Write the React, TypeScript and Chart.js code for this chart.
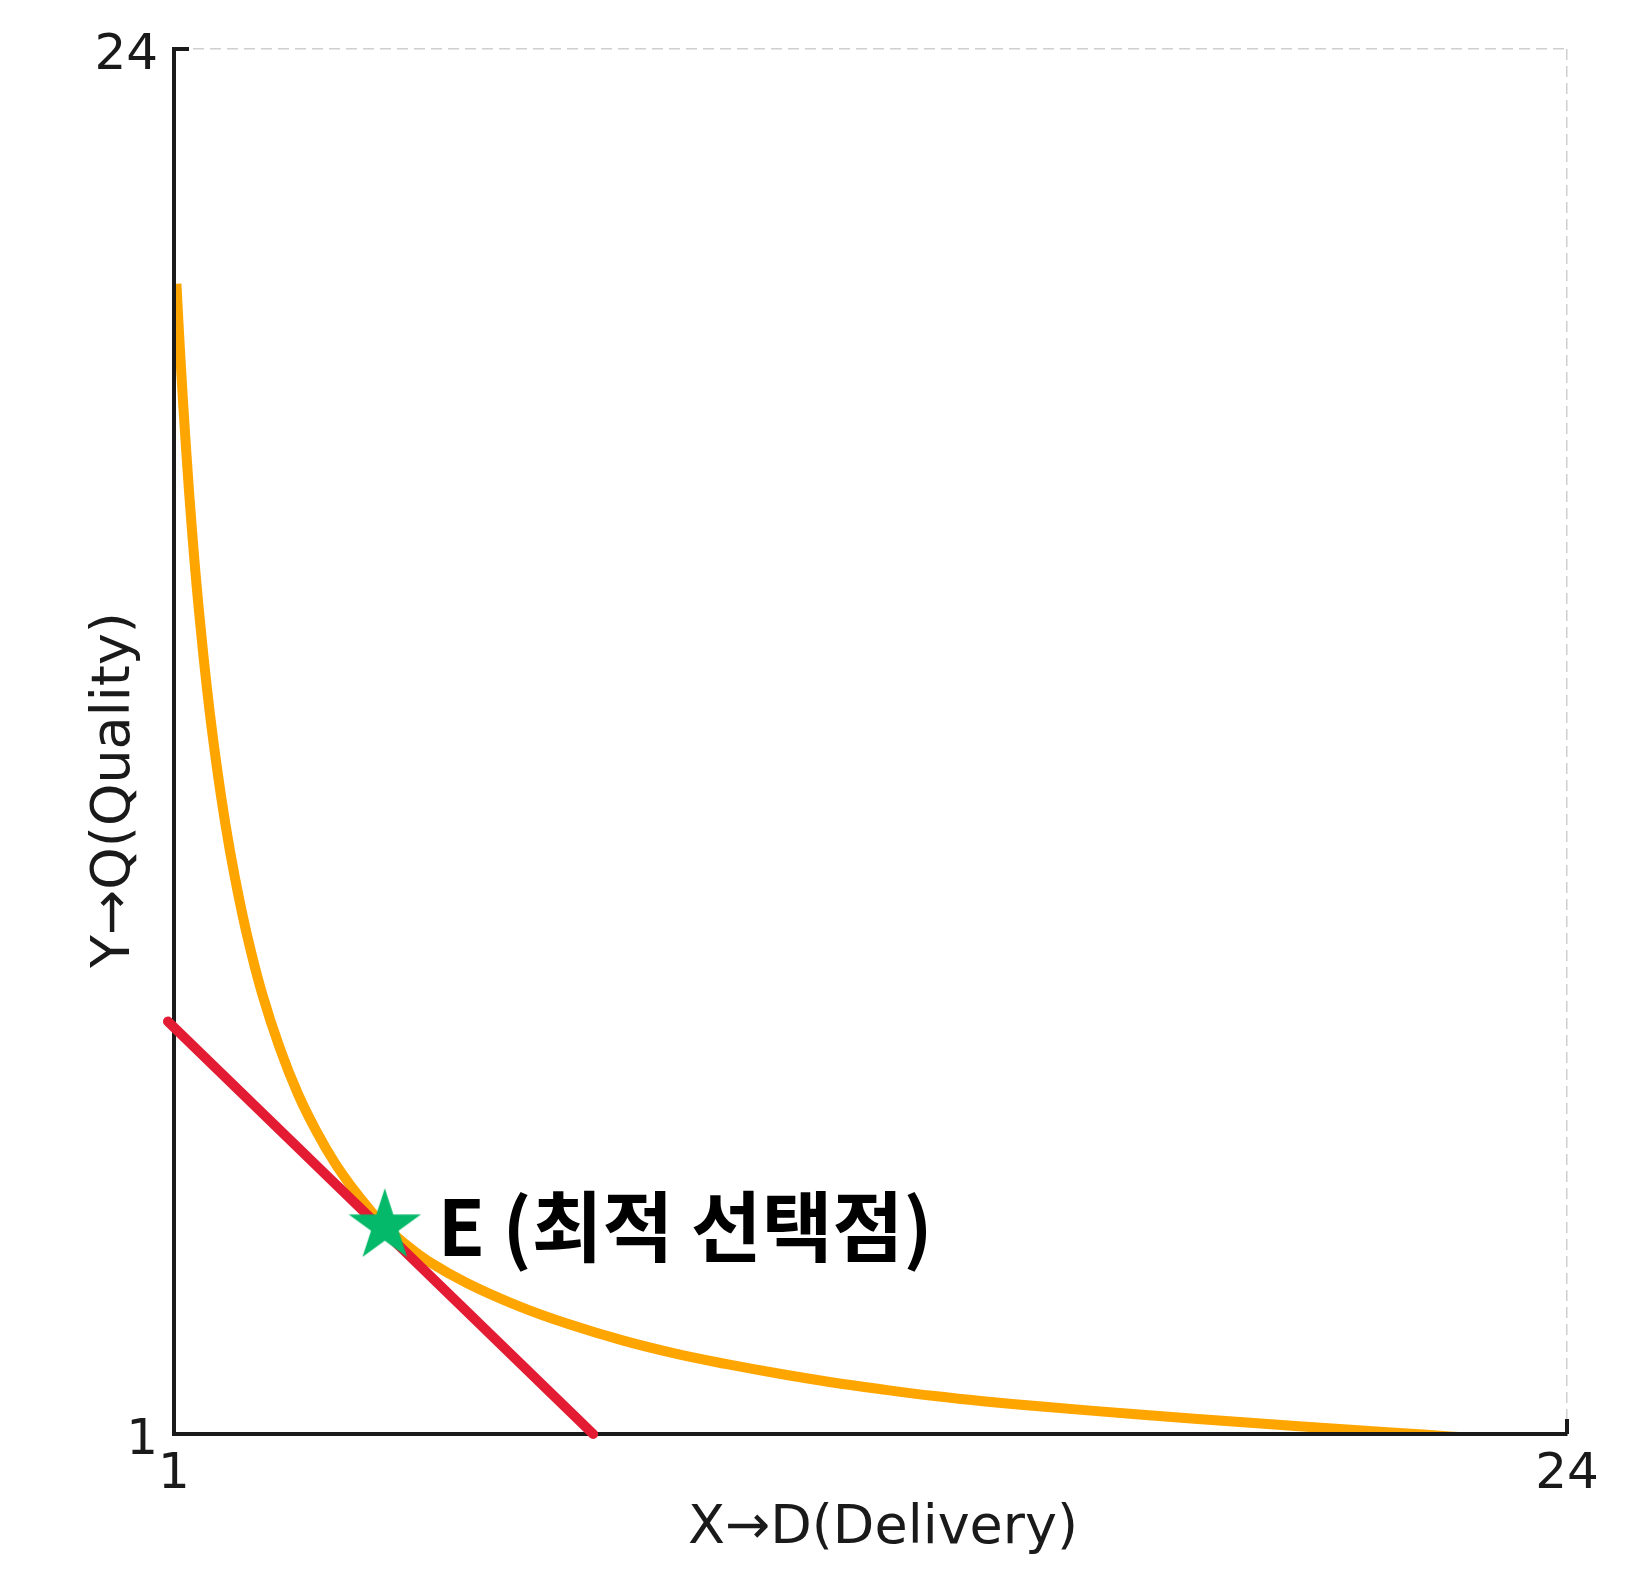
import { useEffect, useRef } from "react";
import { Chart, registerables } from "chart.js";

Chart.register(...registerables);

// ---- data ----
const X_MIN = 1;
const X_MAX = 24;
const Y_MIN = 1;
const Y_MAX = 24;
const TICK_VALUES = [1, 24];

// indifference curve
const CURVE_X = [1.04, 1.1, 1.2, 1.3, 1.4, 1.55, 1.7, 1.85, 2.0, 2.2, 2.45, 2.75, 3.05, 3.35, 3.65, 3.95, 4.22, 4.47, 4.8, 5.2, 5.85, 6.7, 7.5, 8.42, 9.3, 10.13, 11.0, 11.85, 12.7, 13.56, 14.4, 15.28, 16.99, 18.71, 20.43, 21.63, 22.5];
const CURVE_Y = [20.1, 18.97, 17.35, 15.97, 14.8, 13.33, 12.13, 11.12, 10.27, 9.31, 8.33, 7.4, 6.64, 6.03, 5.51, 5.08, 4.74, 4.46, 4.17, 3.87, 3.5, 3.12, 2.83, 2.55, 2.33, 2.16, 2.0, 1.86, 1.74, 1.63, 1.54, 1.46, 1.32, 1.19, 1.07, 0.99, 0.93];

// budget line
const BUDGET_X = [0.9, 7.92];
const BUDGET_Y = [7.85, 1.0];

// optimum point
const OPTIMUM_X = [4.48];
const OPTIMUM_Y = [4.45];
const OPTIMUM_LABEL = "E (최적 선택점)";

const X_TITLE = "X→D(Delivery)";
const Y_TITLE = "Y→Q(Quality)";

const AXIS_COLOR = "#1a1a1a";

function makeStar(R: number, color: string): HTMLCanvasElement {
  const size = Math.ceil(R * 2 + 4);
  const c = document.createElement("canvas");
  c.width = size;
  c.height = size;
  const ctx = c.getContext("2d")!;
  const cx = size / 2;
  const cy = size / 2;
  const r = R * 0.381966;
  ctx.beginPath();
  for (let i = 0; i < 10; i++) {
    const ang = -Math.PI / 2 + (i * Math.PI) / 5;
    const rad = i % 2 === 0 ? R : r;
    const px = cx + rad * Math.cos(ang);
    const py = cy + rad * Math.sin(ang);
    if (i === 0) ctx.moveTo(px, py);
    else ctx.lineTo(px, py);
  }
  ctx.closePath();
  ctx.fillStyle = color;
  ctx.fill();
  return c;
}

const textPlugin = {
  id: "textPlugin",
  afterDraw(chart: any) {
    const { ctx, chartArea } = chart;
    const xs = chart.scales.x;
    const ys = chart.scales.y;
    ctx.save();
    // inward tick marks
    ctx.strokeStyle = AXIS_COLOR;
    ctx.lineWidth = 4;
    for (const v of TICK_VALUES) {
      const px = xs.getPixelForValue(v);
      ctx.beginPath();
      ctx.moveTo(px, chartArea.bottom);
      ctx.lineTo(px, chartArea.bottom - 15);
      ctx.stroke();
      const py = ys.getPixelForValue(v);
      ctx.beginPath();
      ctx.moveTo(chartArea.left, py);
      ctx.lineTo(chartArea.left + 15, py);
      ctx.stroke();
    }
    // tick labels
    ctx.fillStyle = AXIS_COLOR;
    ctx.font = '50px "DejaVu Sans"';
    ctx.textBaseline = "alphabetic";
    ctx.textAlign = "center";
    for (const v of TICK_VALUES) {
      ctx.fillText(String(v), xs.getPixelForValue(v), chartArea.bottom + 54);
    }
    ctx.textAlign = "right";
    for (const v of TICK_VALUES) {
      ctx.fillText(String(v), chartArea.left - 16, ys.getPixelForValue(v) + 19.5);
    }
    // axis titles
    ctx.font = '54px "DejaVu Sans"';
    ctx.textAlign = "center";
    ctx.fillText(X_TITLE, 883, chartArea.bottom + 109);
    ctx.save();
    ctx.translate(129, 790);
    ctx.rotate(-Math.PI / 2);
    ctx.fillText(Y_TITLE, 0, 0);
    ctx.restore();
    // optimum label
    const ex = xs.getPixelForValue(OPTIMUM_X[0]);
    const ey = ys.getPixelForValue(OPTIMUM_Y[0]);
    ctx.fillStyle = "#000000";
    ctx.font = 'bold 77px "Noto Sans CJK KR"';
    ctx.textAlign = "left";
    ctx.fillText(OPTIMUM_LABEL, ex + 53, ey + 29.5);
    ctx.restore();
  },
};

export default function App() {
  const ref = useRef<HTMLCanvasElement>(null);
  useEffect(() => {
    if (!ref.current) return;
    const star = makeStar(38, "#05B96A");
    const chart = new Chart(ref.current, {
      type: "scatter",
      data: {
        datasets: [
          {
            label: "E",
            data: OPTIMUM_X.map((x, i) => ({ x, y: OPTIMUM_Y[i] })),
            pointStyle: star as any,
            showLine: false,
            clip: false as any,
            order: 0,
          },
          {
            label: "budget",
            data: BUDGET_X.map((x, i) => ({ x, y: BUDGET_Y[i] })),
            showLine: true,
            borderColor: "#E31B33",
            borderWidth: 10,
            borderCapStyle: "round",
            pointRadius: 0,
            clip: false as any,
            order: 1,
          },
          {
            label: "curve",
            data: CURVE_X.map((x, i) => ({ x, y: CURVE_Y[i] })),
            showLine: true,
            borderColor: "#FFA500",
            borderWidth: 10,
            pointRadius: 0,
            tension: 0.4,
            borderJoinStyle: "round",
            clip: { left: -2, top: 0, right: 0, bottom: -2 } as any,
            order: 2,
          },
        ],
      },
      options: {
        responsive: false,
        animation: false,
        events: [],
        layout: { padding: { left: 174, top: 49, right: 62, bottom: 158 } },
        plugins: { legend: { display: false }, tooltip: { enabled: false } },
        scales: {
          x: {
            type: "linear",
            min: X_MIN,
            max: X_MAX,
            afterBuildTicks: (s: any) => {
              s.ticks = TICK_VALUES.map((v) => ({ value: v }));
            },
            ticks: { display: false },
            grid: { color: "#cfcfcf", lineWidth: 1.5, drawTicks: false },
            border: { display: true, color: AXIS_COLOR, width: 4, dash: [11, 6] },
          },
          y: {
            type: "linear",
            min: Y_MIN,
            max: Y_MAX,
            afterBuildTicks: (s: any) => {
              s.ticks = TICK_VALUES.map((v) => ({ value: v }));
            },
            ticks: { display: false },
            grid: { color: "#cfcfcf", lineWidth: 1.5, drawTicks: false },
            border: { display: true, color: AXIS_COLOR, width: 4, dash: [11, 6] },
          },
        },
      },
      plugins: [textPlugin],
    });
    return () => chart.destroy();
  }, []);
  return (
    <div style={{ position: "absolute", left: 0, top: 0, width: 1629, height: 1592, background: "#fff" }}>
      <canvas ref={ref} width={1629} height={1592} style={{ display: "block" }} />
    </div>
  );
}
